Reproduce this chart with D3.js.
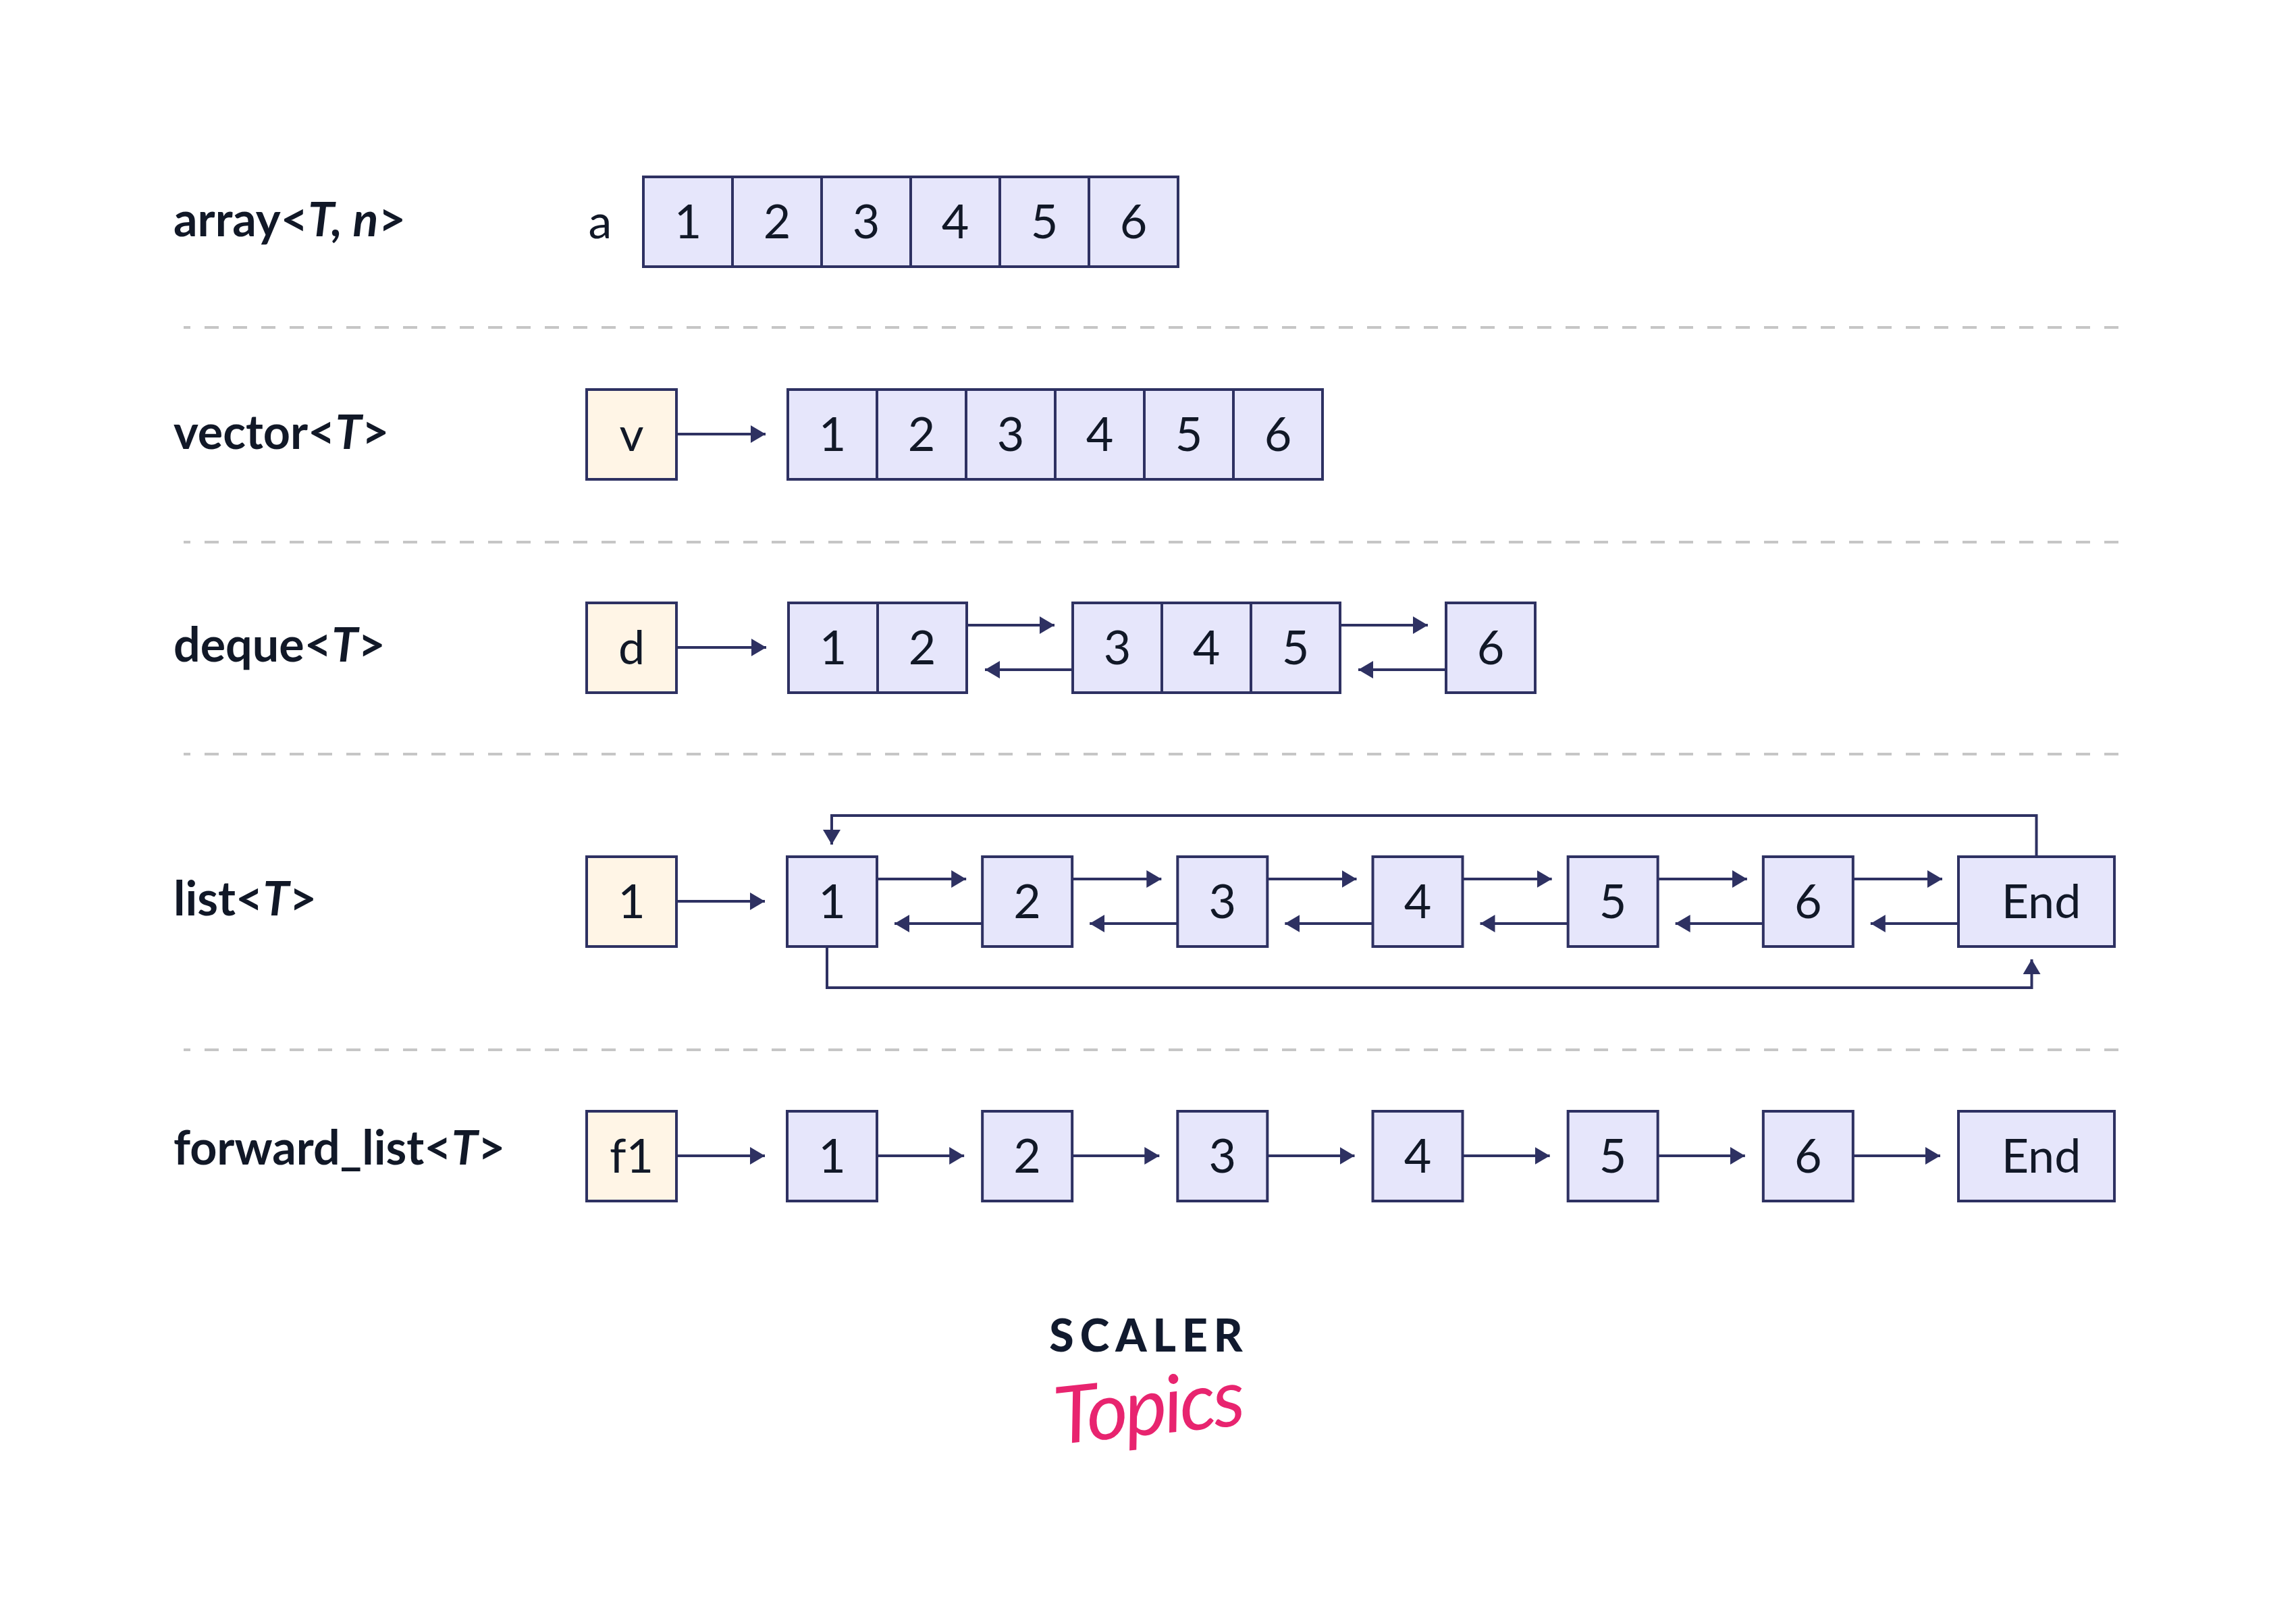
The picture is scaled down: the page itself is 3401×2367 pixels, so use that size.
<!DOCTYPE html>
<html lang="en">
<head>
  <meta charset="UTF-8">
  <title>STL sequence containers</title>
  <script src="https://cdn.jsdelivr.net/npm/d3@7"></script>
  <style>
    body { margin: 0; background: #fff; }
    svg { display: block; }
    .label { font-family: Lato, "Noto Sans", sans-serif; font-weight: 700; font-size: 70px; fill: #111827; }
    .cell-text { font-family: Lato, "Noto Sans", sans-serif; font-size: 70px; fill: #111827; text-anchor: middle; }
  </style>
</head>
<body>
  <div id="chart"></div>
  <script>
    // Row data
    const containerNames = ["array", "vector", "deque", "list", "forward_list"];
    const templateArgs = ["T, n", "T", "T", "T", "T"];
    const pointerNames = ["a", "v", "d", "1", "f1"];
    const arrayValues = ["1", "2", "3", "4", "5", "6"];
    const vectorValues = ["1", "2", "3", "4", "5", "6"];
    const dequeChunks = [["1", "2"], ["3", "4", "5"], ["6"]];
    const listValues = ["1", "2", "3", "4", "5", "6", "End"];
    const forwardValues = ["1", "2", "3", "4", "5", "6", "End"];

    const width = 3401, height = 2367;
    const cell = 132;          // box size
    const stroke = '#2e3162';
    const cellFill = '#e6e6fb';
    const ptrFill = '#fff5e6';
    const gap = 27;            // space between arrow tip and box

    const svg = d3.select('#chart').append('svg')
      .attr('width', width)
      .attr('height', height);

    svg.append('rect').attr('width', width).attr('height', height).attr('fill', '#fff');

    svg.append('defs').append('marker')
      .attr('id', 'head')
      .attr('markerUnits', 'userSpaceOnUse')
      .attr('viewBox', '0 0 22 26')
      .attr('refX', 22).attr('refY', 13)
      .attr('markerWidth', 22).attr('markerHeight', 26)
      .attr('orient', 'auto')
      .append('path')
        .attr('d', 'M0,0 L22,13 L0,26 Z')
        .attr('fill', stroke);

    // Row centres
    const rowY = d3.scaleOrdinal()
      .domain(containerNames)
      .range([328, 643, 959, 1335, 1712]);
    const labelDy = d3.scaleOrdinal().domain(containerNames).range([22, 22, 21, 21, 13]);

    // Separators between rows
    const sepY = [485, 803, 1117, 1555];
    svg.append('g').selectAll('line')
      .data(sepY)
      .join('line')
        .attr('x1', 272).attr('x2', 3140)
        .attr('y1', d => d).attr('y2', d => d)
        .attr('stroke', '#c6c6c6')
        .attr('stroke-width', 4)
        .attr('stroke-dasharray', '21 21')
        .attr('stroke-dashoffset', 11);

    // Row labels
    const labels = svg.append('g').selectAll('text')
      .data(containerNames)
      .join('text')
        .attr('class', 'label')
        .attr('x', 257)
        .attr('y', d => rowY(d) + labelDy(d));
    labels.append('tspan').text(d => d + '<');
    labels.append('tspan').attr('font-style', 'italic').text((d, i) => templateArgs[i]);
    labels.append('tspan').text('>');

    const boxX = d3.scaleLinear().domain([0, 1]).range([0, cell]);

    function box(g, x, y, w, fill, txt, dx) {
      g.append('rect')
        .attr('x', x).attr('y', y - cell / 2)
        .attr('width', w).attr('height', cell + 1)
        .attr('fill', fill)
        .attr('stroke', stroke)
        .attr('stroke-width', 4);
      g.append('text')
        .attr('class', 'cell-text')
        .attr('x', x + w / 2 + (dx || 0))
        .attr('y', y + 25)
        .text(txt);
    }

    function arrow(g, pts) {
      g.append('path')
        .attr('d', d3.line()(pts))
        .attr('fill', 'none')
        .attr('stroke', stroke)
        .attr('stroke-width', 4)
        .attr('marker-end', 'url(#head)');
    }

    const g = svg.append('g');
    const ptrX = 869;

    // array<T, n>
    const yA = rowY('array');
    g.append('text').attr('class', 'cell-text').attr('x', 889).attr('y', yA + 25).text(pointerNames[0]);
    const arrX = d3.scaleLinear().domain([0, 1]).range([953, 953 + cell]);
    arrayValues.forEach((v, i) => box(g, arrX(i), yA, cell, cellFill, v));

    // vector<T>
    const yV = rowY('vector');
    box(g, ptrX, yV, cell + 1, ptrFill, pointerNames[1]);
    const vecX = d3.scaleLinear().domain([0, 1]).range([1167, 1167 + cell]);
    arrow(g, [[ptrX + cell, yV], [vecX(0) - 33, yV]]);
    vectorValues.forEach((v, i) => box(g, vecX(i), yV, cell, cellFill, v));

    // deque<T>
    const yD = rowY('deque');
    box(g, ptrX, yD, cell + 1, ptrFill, pointerNames[2]);
    const chunkGap = 157;
    let cursor = 1168;
    const chunkPos = [];
    dequeChunks.forEach(chunk => {
      chunkPos.push([cursor, cursor + boxX(chunk.length)]);
      chunk.forEach((v, i) => box(g, cursor + boxX(i), yD, cell, cellFill, v));
      cursor += boxX(chunk.length) + chunkGap;
    });
    arrow(g, [[ptrX + cell, yD], [chunkPos[0][0] - 33, yD]]);
    for (let k = 0; k < chunkPos.length - 1; k++) {
      const r = chunkPos[k][1], l = chunkPos[k + 1][0];
      arrow(g, [[r, yD - 33], [l - gap, yD - 33]]);
      arrow(g, [[l, yD + 33], [r + gap, yD + 33]]);
    }

    // list<T> and forward_list<T>
    const nodeX = d3.scaleLinear().domain([0, listValues.length - 1]).range([1166, 2901]);
    const endW = 231;
    const nodeW = i => (i === listValues.length - 1 ? endW : cell + 1);

    const yL = rowY('list');
    box(g, ptrX, yL, cell + 1, ptrFill, pointerNames[3]);
    arrow(g, [[ptrX + cell, yL], [nodeX(0) - 33, yL]]);
    listValues.forEach((v, i) => box(g, nodeX(i), yL, nodeW(i), cellFill, v, v === 'End' ? 7 : 0));
    for (let i = 0; i < listValues.length - 1; i++) {
      const r = nodeX(i) + cell, l = nodeX(i + 1);
      arrow(g, [[r, yL - 33], [l - gap + 3, yL - 33]]);
      arrow(g, [[l, yL + 33], [r + gap, yL + 33]]);
    }
    const last = listValues.length - 1;
    const endCx = nodeX(last) + endW / 2;
    const firstCx = nodeX(0) + cell / 2;
    // end -> first (top loop)
    arrow(g, [[endCx, yL - cell / 2], [endCx, yL - 127], [firstCx, yL - 127], [firstCx, yL - cell / 2 - 18]]);
    // first -> end (bottom loop)
    arrow(g, [[firstCx - 7, yL + cell / 2], [firstCx - 7, yL + 128], [endCx - 7, yL + 128], [endCx - 7, yL + cell / 2 + 20]]);

    const yF = rowY('forward_list');
    box(g, ptrX, yF, cell + 1, ptrFill, pointerNames[4]);
    arrow(g, [[ptrX + cell, yF], [nodeX(0) - 33, yF]]);
    forwardValues.forEach((v, i) => box(g, nodeX(i), yF, nodeW(i), cellFill, v, v === 'End' ? 7 : 0));
    for (let i = 0; i < forwardValues.length - 1; i++) {
      arrow(g, [[nodeX(i) + cell, yF], [nodeX(i + 1) - gap, yF]]);
    }

    // Logo
    const logo = svg.append('g');
    logo.append('text')
      .attr('x', 1702).attr('y', 2002)
      .attr('text-anchor', 'middle')
      .attr('font-family', 'Lato, "Noto Sans", sans-serif')
      .attr('font-weight', 900)
      .attr('font-size', 66)
      .attr('letter-spacing', 9)
      .attr('fill', '#111a2e')
      .text('SCALER');
    logo.append('text')
      .attr('x', 1702).attr('y', 2125)
      .attr('text-anchor', 'middle')
      .attr('font-family', 'Lato, "Noto Sans", sans-serif')
      .attr('font-style', 'italic')
      .attr('font-weight', 400)
      .attr('font-size', 118)
      .attr('letter-spacing', -4)
      .attr('fill', '#e8246f')
      .attr('transform', 'rotate(-6 1702 2100)')
      .text('Topics');
  </script>
</body>
</html>
